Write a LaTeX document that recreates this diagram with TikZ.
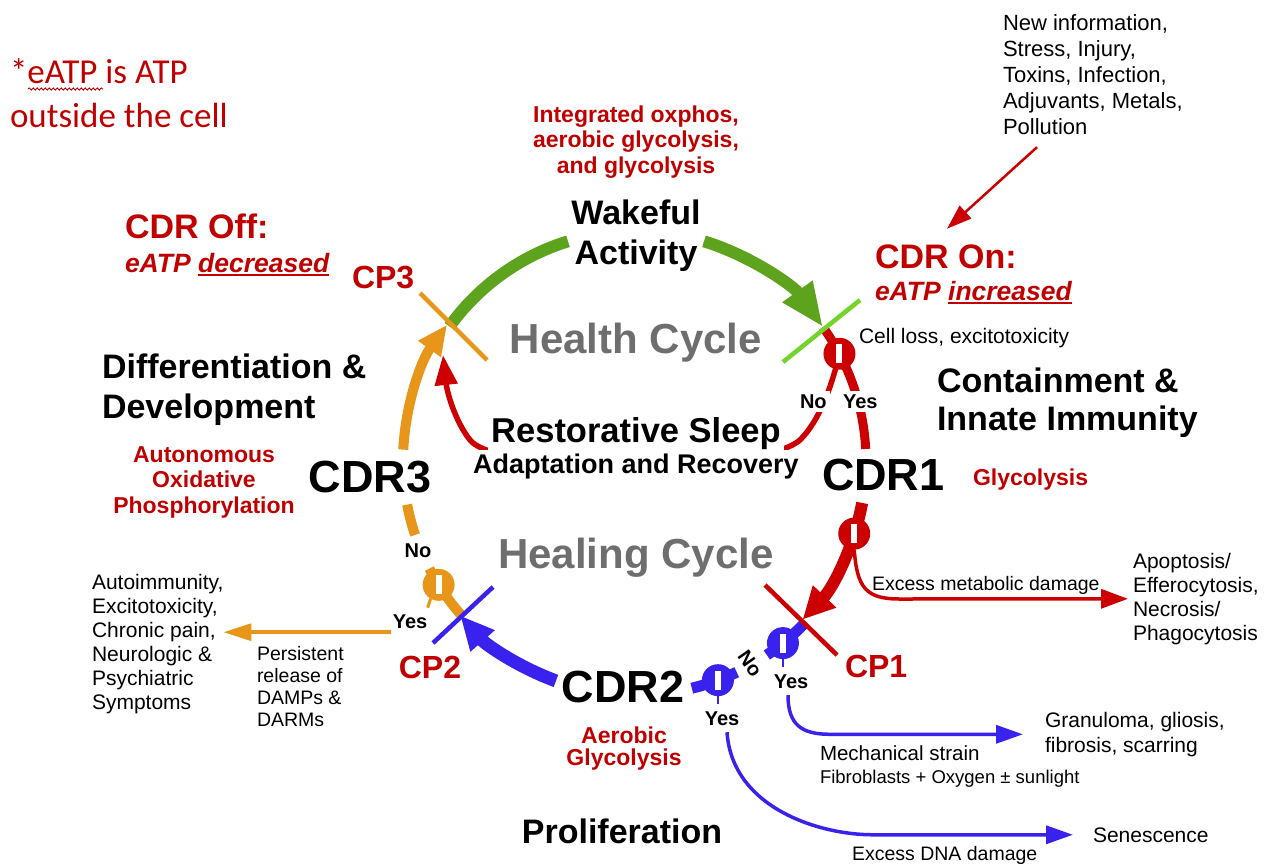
\documentclass[tikz,border=0pt]{standalone}
\usepackage{fontspec}
\setmainfont{Liberation Sans}
\newfontfamily\calfont{Carlito}
\usetikzlibrary{arrows.meta,calc,decorations.pathmorphing}
\pgfdeclarelayer{background}
\pgfsetlayers{background,main}
\definecolor{dred}{HTML}{C00000}
\definecolor{lred}{HTML}{CC0000}
\definecolor{grn}{HTML}{5DA31E}
\definecolor{lgrn}{HTML}{74D42A}
\definecolor{org}{HTML}{E8961A}
\definecolor{blu}{HTML}{3A22EE}
\definecolor{gry}{HTML}{6E6E6E}
\newcommand{\fsz}[2]{\fontsize{#1}{#2}\selectfont}
\newcommand{\ulx}[1]{\setbox0\hbox{#1}\rlap{\rule[-0.14em]{\wd0}{0.075em}}\box0}
\tikzset{
  every node/.style={inner sep=0pt, outer sep=0pt},
  blk/.style={font=\bfseries\fsz{34}{40}},
  cdr/.style={font=\bfseries\fsz{45}{50}},
  ttl/.style={font=\bfseries\fsz{42}{48}, text=gry},
  redbig/.style={font=\bfseries\fsz{34}{40}, text=dred},
  redital/.style={font=\bfseries\itshape\fsz{26.5}{30}, text=dred},
  redsub/.style={font=\bfseries\fsz{23}{25.5}, text=dred, align=center},
  cplab/.style={font=\bfseries\fsz{32}{36}, text=dred},
  yn/.style={font=\bfseries\fsz{20}{24}},
  sml/.style={font=\fsz{21}{24}, align=left},
  smaller/.style={font=\fsz{19.5}{22}, align=left},
  valve/.style={circle, fill=#1, minimum size=32pt,
    path picture={\fill[white] ([xshift=-3pt,yshift=-9.5pt]path picture bounding box.center) rectangle ++(6pt,19pt);}},
  gline/.style={grn, line width=12pt},
  rline/.style={lred, line width=9pt},
  bline/.style={blu, line width=11pt},
  oline/.style={org, line width=10pt},
  thinred/.style={lred, line width=3.5pt, -{Triangle[length=27pt,width=19pt]}},
  thinblu/.style={blu, line width=3.5pt, -{Triangle[length=27pt,width=18pt]}},
  thinorg/.style={org, line width=3.5pt, -{Triangle[length=28pt,width=17pt]}},
  cpmark/.style={line width=4.5pt}
}
\begin{document}
\begin{tikzpicture}[x=1pt,y=1pt]
\useasboundingbox (0,0) rectangle (1266,-863);
\coordinate (C) at (636,-461);

% ---------- note ----------
\node[anchor=base west, text=dred, font=\calfont\fsz{35}{44}] (note1) at (10,-83) {*eATP is ATP};
\node[anchor=base west, text=dred, font=\calfont\fsz{35}{44}] (note2) at (10,-127) {outside the cell};

% ---------- top labels ----------
\node[redbig, anchor=base west] (cdroff) at (125,-238) {CDR Off:};
\node[redital, anchor=base west] (eatpdec) at (125,-272) {eATP \ulx{decreased}};
\node[cplab, anchor=base west] (cp3l) at (352,-288) {CP3};
\node[redbig, anchor=base west] (cdron) at (875,-268) {CDR On:};
\node[redital, anchor=base west] (eatpinc) at (875,-300) {eATP \ulx{increased}};
\node[font=\fsz{22}{26}, align=left, anchor=north west] (newinfo) at (1003,-15) {New information,\\Stress, Injury,\\Toxins, Infection,\\Adjuvants, Metals,\\Pollution};
\node[redsub, anchor=north] (integ) at (636,-105.5) {Integrated oxphos,\\aerobic glycolysis,\\and glycolysis};
\node[blk, align=center, anchor=north] (wake) at (636,-199.5) {Wakeful\\Activity};

% ---------- centre ----------
\node[ttl, anchor=base] (health) at (636,-353) {Health Cycle};
\node[ttl, anchor=base] (healing) at (636,-568) {Healing Cycle};
\node[font=\bfseries\fsz{34.5}{40}, anchor=base, fill=white, inner sep=3pt] (sleep) at (636,-442) {Restorative Sleep};
\node[font=\bfseries\fsz{27}{30}, anchor=base, fill=white, inner sep=3pt] (adapt) at (636,-473) {Adaptation and Recovery};

% ---------- right ----------
\node[sml, anchor=base west] (cellloss) at (859,-343) {Cell loss, excitotoxicity};
\node[yn, anchor=base west, fill=white, inner sep=3.5pt] (no1) at (796.5,-408) {No};
\node[yn, anchor=base west, fill=white, inner sep=3.5pt] (yes1) at (839.5,-408) {Yes};
\node[blk, align=left, anchor=north west] (contain) at (937,-367.5) {Containment \&\\[-2pt]Innate Immunity};
\node[cdr, anchor=base west] (cdr1) at (822,-490) {CDR1};
\node[redsub, anchor=base west] (glyc) at (973,-485) {Glycolysis};
\node[smaller, anchor=base west] (excmet) at (872,-590) {Excess metabolic damage};
\node[sml, anchor=north west] (apop) at (1133,-553) {Apoptosis/\\Efferocytosis,\\Necrosis/\\Phagocytosis};
\node[cplab, anchor=base west] (cp1l) at (845,-677) {CP1};

% ---------- left ----------
\node[blk, align=left, anchor=north west] (diff) at (102,-353.5) {Differentiation \&\\Development};
\node[redsub, anchor=north] (auton) at (204,-446.5) {Autonomous\\Oxidative\\Phosphorylation};
\node[cdr, anchor=base] (cdr3) at (370,-492) {CDR3};
\node[yn, anchor=base] (no5) at (418,-557) {No};
\node[yn, anchor=base] (yes5) at (410,-628) {Yes};
\node[cplab, anchor=base] (cp2l) at (430,-678) {CP2};
\node[sml, anchor=north west] (auto) at (92,-574) {Autoimmunity,\\Excitotoxicity,\\Chronic pain,\\Neurologic \&\\Psychiatric\\Symptoms};
\node[smaller, anchor=north west] (persist) at (257,-646) {Persistent\\release of\\DAMPs \&\\DARMs};

% ---------- bottom ----------
\node[cdr, anchor=base] (cdr2) at (623,-702) {CDR2};
\node[redsub, anchor=north] (aerob) at (624,-726.5) {Aerobic\\[-3pt]Glycolysis};
\node[blk, anchor=base] (prolif) at (622,-843) {Proliferation};
\node[yn, anchor=base] (yes3) at (791,-688) {Yes};
\node[yn, anchor=base] (yes4) at (722,-725) {Yes};
\node[yn, rotate=-55] (no3) at (750,-664) {No};
\node[sml, anchor=north west, font=\fsz{21}{25}] (gran) at (1045,-712) {Granuloma, gliosis,\\fibrosis, scarring};
\node[font=\fsz{20.5}{23}, anchor=base west] (mech) at (820,-760) {Mechanical strain};
\node[font=\fsz{18.5}{22}, anchor=base west] (fibro) at (820,-783) {Fibroblasts + Oxygen ± sunlight};
\node[smaller, anchor=base west] (excdna) at (852,-860) {Excess DNA damage};
\node[sml, anchor=base west] (sen) at (1093,-842) {Senescence};

% ---------- valves ----------
\node[valve=lred] (v1) at ($(C)+(27.8:230)$) {};
\node[valve=lred] (v2) at ($(C)+(-18.4:230)$) {};
\node[valve=blu] (v3) at ($(C)+(-51.1:234)$) {};
\node[valve=blu] (v4) at ($(C)+(-69.5:234)$) {};
\node[valve=org] (v5) at ($(C)+(-147.9:233)$) {};

\coordinate (o5) at ($(yes5.south west)+(-2,-4)$);
\coordinate (nstart) at ($(newinfo.south west)+(34,-12)$);
\coordinate (nend) at ($(cdron.north west)+(72,15.5)$);

\begin{pgfonlayer}{background}
% spell-check underline
\draw[dred, line width=0.9pt, decorate, decoration={snake, amplitude=1.1pt, segment length=4pt}] (28,-89) -- (103,-89);

% green arc
\draw[gline] ($(C)+(144.2:230)$) arc[start angle=144.2,end angle=107.2,radius=230];
\draw[gline, -{Triangle[length=44pt,width=34pt]}] ($(C)+(72.8:230)$) arc[start angle=72.8,end angle=35.6,radius=230];

% red arcs
\draw[rline] ($(C)+(35.6:230)$) arc[start angle=35.6,end angle=3,radius=230];
\draw[lred, line width=12pt, -{Triangle[length=32pt,width=30pt]}] ($(C)+(-10.5:230)$) arc[start angle=-10.5,end angle=-43.6,radius=230];
% red "No" branch back to CP3
\draw[lred, line width=5.5pt, -{Triangle[length=30pt,width=22pt]}] (v1.center)
  .. controls (832,-385) and (820,-420) .. (800,-440)
  .. controls (760,-475) and (498,-475) .. (470,-440)
  .. controls (455,-421) and (447,-392) .. (443,-355);
% red excess metabolic damage
\draw[thinred] (v2.south) .. controls (857,-588) and (866,-599) .. (900,-599) -- ($(apop.west)+(-5,0)$);

% blue arcs
\draw[bline] ($(C)+(-43.6:234)$) arc[start angle=-43.6,end angle=-56,radius=234];
\draw[bline] ($(C)+(-64.5:234)$) arc[start angle=-64.5,end angle=-76.2,radius=234];
\draw[blu, line width=13pt, -{Triangle[length=34pt,width=30pt]}] ($(C)+(-110:234)$) arc[start angle=-110,end angle=-138.7,radius=234];
\draw[blu, line width=2.5pt] (v3.south) -- ++(0,-8);
\draw[blu, line width=2.5pt] (v4.south) -- ++(0,-8);
\draw[thinblu] ($(yes3.south)+(-3,-7)$) .. controls +(0,-30) and +(-28,0) .. ($(gran.west)+(-215,0)$) -- ($(gran.west)+(-22,0)$);
\draw[thinblu] ($(yes4.south)+(5,-7)$) .. controls +(5,-75) and +(-55,0) .. ($(sen.west)+(-220,0)$) -- ($(sen.west)+(-20,0)$);

% orange arcs
\draw[oline] ($(C)+(-138.7:233)$) arc[start angle=-138.7,end angle=-152.5,radius=233];
\draw[oline] ($(C)+(-161.5:233)$) arc[start angle=-161.5,end angle=-169.2,radius=233];
\draw[oline, -{Triangle[length=30pt,width=26pt]}] ($(C)+(177.2:233)$) arc[start angle=177.2,end angle=144.2,radius=233];
\draw[org, line width=3pt] (v5.240) -- ++(-3,-9);
\draw[thinorg] (o5) -- (o5 -| auto.east);

% input arrow
\draw[lred, line width=2.5pt, -{Triangle[length=25pt,width=17pt]}] (nstart) -- (nend);

% check-point marks
\draw[cpmark, lgrn] (783,-362) -- (860,-300);
\draw[cpmark, org] (420,-293) -- (487,-360);
\draw[cpmark, lred] (765,-585) -- (837,-655);
\draw[cpmark, blu] (493,-587) -- (433,-643);
\end{pgfonlayer}
\end{tikzpicture}
\end{document}
